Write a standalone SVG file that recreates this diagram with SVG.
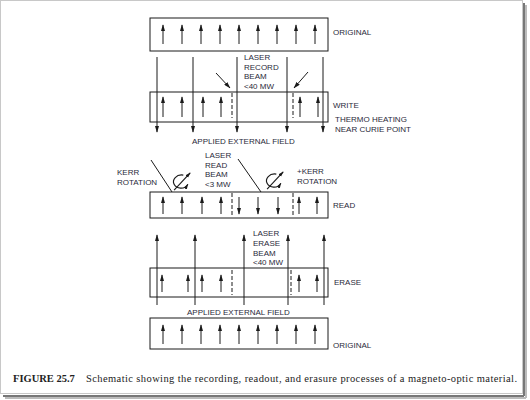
<svg xmlns="http://www.w3.org/2000/svg" width="530" height="400" viewBox="0 0 530 400">
<style>
.t{font-family:"Liberation Sans",Arial,sans-serif;font-size:8px;fill:#2a2a3a}
.box{fill:none;stroke:#1a1a1a;stroke-width:1}
.ln{stroke:#1a1a1a;stroke-width:1;fill:none}
.ar{stroke:#1a1a1a;stroke-width:1;fill:none;marker-end:url(#ah)}
.sa{stroke:#1a1a1a;stroke-width:1;fill:none;marker-end:url(#sm)}
.dash{stroke:#1a1a1a;stroke-width:1;stroke-dasharray:4 2;fill:none}
.cap{font-family:"Liberation Serif","Times New Roman",serif;font-size:10.5px;fill:#222}
</style>
<defs>
<marker id="ah" viewBox="0 0 10 6" refX="9" refY="3" markerWidth="7" markerHeight="4.6" markerUnits="userSpaceOnUse" orient="auto"><path d="M0,0 L10,3 L0,6 z" fill="#1a1a1a"/></marker>
<marker id="sm" viewBox="0 0 10 6" refX="9" refY="3" markerWidth="5" markerHeight="3.5" markerUnits="userSpaceOnUse" orient="auto"><path d="M0,0 L10,3 L0,6 z" fill="#1a1a1a"/></marker>
</defs>
<rect x="0" y="0" width="530" height="400" fill="#fff"/>
<g id="frame">
<rect x="0.5" y="0.5" width="522" height="393" fill="none" stroke="#c8c8c8"/>
<path d="M524,3 V396 M3,396 H524" stroke="#777" stroke-width="2" fill="none"/>
<path d="M526,5 V398 M5,398 H526" stroke="#bbb" stroke-width="2" fill="none"/>
</g>

<g id="original-top">
<rect class="box" x="150" y="18" width="178" height="33"/>
<line class="ar" x1="163" y1="44" x2="163" y2="25"/>
<line class="ar" x1="182" y1="44" x2="182" y2="25"/>
<line class="ar" x1="201" y1="44" x2="201" y2="25"/>
<line class="ar" x1="220" y1="44" x2="220" y2="25"/>
<line class="ar" x1="239" y1="44" x2="239" y2="25"/>
<line class="ar" x1="258" y1="44" x2="258" y2="25"/>
<line class="ar" x1="277" y1="44" x2="277" y2="25"/>
<line class="ar" x1="296" y1="44" x2="296" y2="25"/>
<line class="ar" x1="315" y1="44" x2="315" y2="25"/>
<text class="t" x="333" y="35">ORIGINAL</text>
</g>

<g id="write">
<rect class="box" x="150" y="92" width="178" height="30"/>
<line class="ar" x1="163" y1="117" x2="163" y2="97"/>
<line class="ar" x1="182" y1="117" x2="182" y2="97"/>
<line class="ar" x1="203" y1="117" x2="203" y2="97"/>
<line class="ar" x1="221" y1="117" x2="221" y2="97"/>
<line class="ar" x1="300" y1="117" x2="300" y2="97"/>
<line class="ar" x1="318" y1="117" x2="318" y2="97"/>
<path class="dash" d="M232,93V118 M293,93V118"/>
<text class="t" x="333" y="108">WRITE</text>
<text class="t" x="335" y="122">THERMO HEATING</text>
<text class="t" x="335" y="132">NEAR CURIE POINT</text>
</g>

<g id="record-beam">
<text class="t" x="244" y="60">LASER</text>
<text class="t" x="244" y="69.5">RECORD</text>
<text class="t" x="244" y="79">BEAM</text>
<text class="t" x="244" y="88.5">&lt;40 MW</text>
</g>

<g id="read">
<rect class="box" x="150" y="192" width="178" height="26"/>
<line class="ar" x1="163" y1="214" x2="163" y2="197"/>
<line class="ar" x1="182" y1="214" x2="182" y2="197"/>
<line class="ar" x1="202" y1="214" x2="202" y2="197"/>
<line class="ar" x1="221" y1="214" x2="221" y2="197"/>
<line class="ar" x1="299" y1="214" x2="299" y2="197"/>
<line class="ar" x1="317" y1="214" x2="317" y2="197"/>
<line class="ar" x1="239" y1="197" x2="239" y2="214"/>
<line class="ar" x1="258" y1="197" x2="258" y2="214"/>
<line class="ar" x1="278" y1="197" x2="278" y2="214"/>
<path class="dash" d="M232,193V217 M293,193V217"/>
<text class="t" x="333" y="208">READ</text>
</g>

<g id="read-beam">
<text class="t" x="117" y="175">KERR</text>
<text class="t" x="117" y="184.5">ROTATION</text>
<text class="t" x="205" y="158">LASER</text>
<text class="t" x="205" y="167.5">READ</text>
<text class="t" x="205" y="177">BEAM</text>
<text class="t" x="205" y="186.5">&lt;3 MW</text>
<text class="t" x="297" y="174">+KERR</text>
<text class="t" x="297" y="184">ROTATION</text>
<path class="ln" d="M151,160L172,192 M238,159L261,192"/>
<g transform="translate(181,182) scale(1.15)">
<path class="sa" d="M2,-6 C-4,-7 -8,-2 -6,2 C-4,6 3,7 6,2"/>
<path class="sa" d="M-6,7 L8,-8"/>
</g>
<g transform="translate(274,181) scale(1.15)">
<path class="sa" d="M2,-6 C-4,-7 -8,-2 -6,2 C-4,6 3,7 6,2"/>
<path class="sa" d="M-6,7 L8,-8"/>
</g>
</g>

<g id="erase">
<rect class="box" x="150" y="268" width="178" height="29"/>
<line class="ar" x1="162" y1="292" x2="162" y2="275"/>
<line class="ar" x1="188" y1="292" x2="188" y2="275"/>
<line class="ar" x1="202" y1="292" x2="202" y2="275"/>
<line class="ar" x1="221" y1="292" x2="221" y2="275"/>
<line class="ar" x1="299" y1="292" x2="299" y2="275"/>
<line class="ar" x1="317" y1="292" x2="317" y2="275"/>
<path class="dash" d="M232,270V295 M291,270V295"/>
<text class="t" x="334" y="285">ERASE</text>
</g>

<g id="erase-beam">
<text class="t" x="253" y="236">LASER</text>
<text class="t" x="253" y="246">ERASE</text>
<text class="t" x="253" y="256">BEAM</text>
<text class="t" x="253" y="265">&lt;40 MW</text>
</g>

<g id="original-bottom">
<rect class="box" x="150" y="318" width="178" height="31"/>
<line class="ar" x1="163" y1="344" x2="163" y2="325"/>
<line class="ar" x1="182" y1="344" x2="182" y2="325"/>
<line class="ar" x1="201" y1="344" x2="201" y2="325"/>
<line class="ar" x1="220" y1="344" x2="220" y2="325"/>
<line class="ar" x1="239" y1="344" x2="239" y2="325"/>
<line class="ar" x1="258" y1="344" x2="258" y2="325"/>
<line class="ar" x1="277" y1="344" x2="277" y2="325"/>
<line class="ar" x1="296" y1="344" x2="296" y2="325"/>
<line class="ar" x1="315" y1="344" x2="315" y2="325"/>
<text class="t" x="333" y="348">ORIGINAL</text>
</g>

<g id="connectors">
<line class="ar" x1="157" y1="57" x2="157" y2="132"/>
<line class="ar" x1="193" y1="57" x2="193" y2="132"/>
<line class="ar" x1="237" y1="57" x2="237" y2="132"/>
<line class="ar" x1="287" y1="57" x2="287" y2="132"/>
<line class="ar" x1="323" y1="57" x2="323" y2="132"/>
<text class="t" x="192" y="144">APPLIED EXTERNAL FIELD</text>
<line class="ar" x1="157" y1="305" x2="157" y2="235"/>
<line class="ar" x1="195" y1="305" x2="195" y2="235"/>
<line class="ar" x1="244" y1="305" x2="244" y2="235"/>
<line class="ar" x1="288" y1="305" x2="288" y2="235"/>
<line class="ar" x1="324" y1="305" x2="324" y2="235"/>
<text class="t" x="187" y="315">APPLIED EXTERNAL FIELD</text>
<line class="ar" x1="216" y1="73" x2="230" y2="88"/>
<line class="ar" x1="308" y1="72" x2="294" y2="88"/>
</g>

<g id="caption">
<text class="cap" x="13" y="382" font-weight="bold">FIGURE 25.7</text>
<text class="cap" x="86" y="382" textLength="431" lengthAdjust="spacing">Schematic showing the recording, readout, and erasure processes of a magneto-optic material.</text>
</g>
</svg>
